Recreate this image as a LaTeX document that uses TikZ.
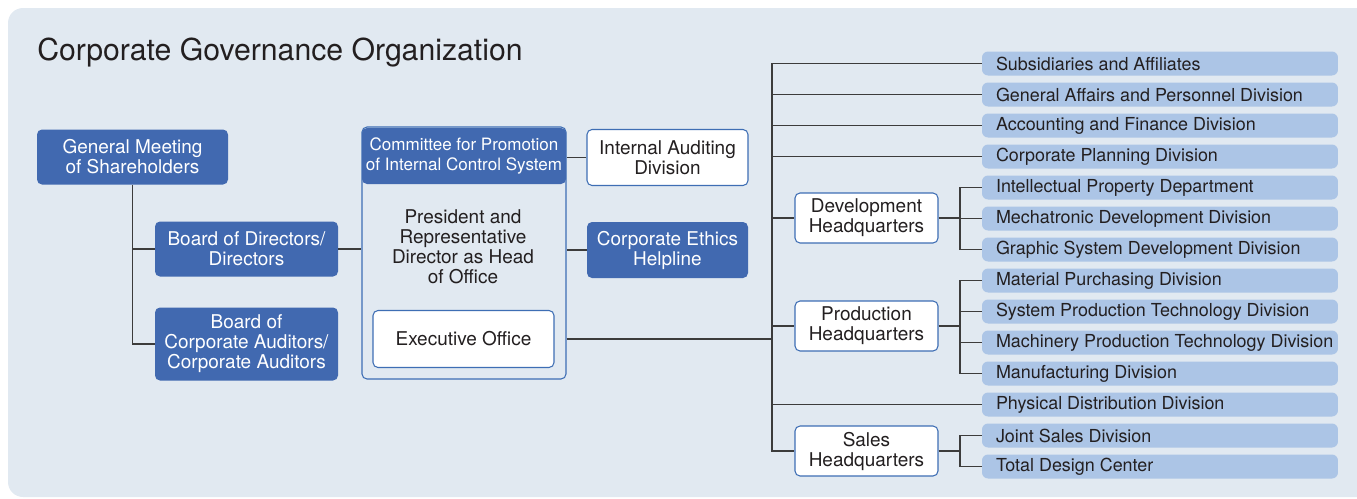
\documentclass[tikz,border=0pt]{standalone}
\usepackage{fontspec}
\setmainfont{TeX Gyre Heros}
\usepackage{tikz}
\definecolor{dkblue}{RGB}{65,105,176}
\definecolor{ltblue}{RGB}{172,197,230}
\definecolor{bgfill}{RGB}{225,233,241}
\definecolor{bdblue}{RGB}{62,110,180}
\definecolor{lncol}{RGB}{60,60,60}
\definecolor{txtcol}{RGB}{35,31,32}
\newcommand{\bodyfont}{\fontsize{10.8}{11.4}\selectfont}
\newcommand{\cmtfont}{\fontsize{9.7}{11.2}\selectfont}
\newcommand{\divfont}{\fontsize{10.2}{11.4}\selectfont}

\begin{document}
\begin{tikzpicture}[x=0.02cm, y=-0.02cm,
  conn/.style={draw=lncol, line width=0.6pt},
  boxsize/.style 2 args={minimum width=#1*0.02cm, minimum height=#2*0.02cm},
  darkbox/.style={fill=dkblue, text=white, rounded corners=0.1cm, align=center, inner sep=0pt, font=\bodyfont},
  whitebox/.style={fill=white, draw=bdblue, line width=0.6pt, rounded corners=0.1cm, align=center, inner sep=0pt, text=txtcol, font=\bodyfont},
  divbox/.style={fill=ltblue, rounded corners=0.12cm, inner xsep=0.28cm, inner ysep=0pt, minimum height=0.48cm, text=txtcol, font=\divfont},
]
\useasboundingbox (0,0) rectangle (1357,498);
% Background panel
\begin{scope}
\clip (0,0) rectangle (1357,498);
\fill[bgfill, rounded corners=0.3cm] (8,8) rectangle (1400,497);
\end{scope}
\node[anchor=base west, inner sep=0pt, text=txtcol, font=\fontsize{17.2}{20}\selectfont] (title) at (37,60) {Corporate Governance Organization};
% Left column
\node[darkbox, boxsize={191}{55}] (gm) at (132.5,157) {General Meeting\\of Shareholders};
\node[darkbox, boxsize={183}{55}] (dir) at (246.5,249) {Board of Directors/\\Directors};
\node[darkbox, boxsize={183}{73}] (aud) at (246.5,344) {Board of\\Corporate Auditors/\\Corporate Auditors};
% President block
\node[draw=bdblue, line width=0.6pt, rounded corners=0.1cm, inner sep=0pt, boxsize={204}{252}] (pres) at (464,253) {};
\node[darkbox, boxsize={204}{56}, font=\cmtfont] (comm) at (464,156) {Committee for Promotion\\of Internal Control System};
\node[align=center, text=txtcol, font=\bodyfont] (head) at (463,247) {President and\\Representative\\Director as Head\\of Office};
\node[whitebox, boxsize={181}{57}] (exec) at (463.5,339) {Executive Office};
\node[whitebox, boxsize={161}{56}] (ia) at (667.5,157.5) {Internal Auditing\\Division};
\node[darkbox, boxsize={161}{56}] (eth) at (667.5,250) {Corporate Ethics\\Helpline};
% Headquarters
\node[whitebox, boxsize={143}{50}] (dev) at (866.5,218) {Development\\Headquarters};
\node[whitebox, boxsize={143}{50}] (prod) at (866.5,326) {Production\\Headquarters};
\node[whitebox, boxsize={143}{50}] (sales) at (866.5,451) {Sales\\Headquarters};
% Divisions
\foreach \i/\name in {1/Subsidiaries and Affiliates, 2/General Affairs and Personnel Division,
  3/Accounting and Finance Division, 4/Corporate Planning Division,
  5/Intellectual Property Department, 6/Mechatronic Development Division,
  7/Graphic System Development Division, 8/Material Purchasing Division,
  9/System Production Technology Division, 10/Machinery Production Technology Division,
  11/Manufacturing Division, 12/Physical Distribution Division,
  13/Joint Sales Division, 14/Total Design Center} {
  \node[divbox] (d\i) at (1160,{32.5+31*\i}) {\makebox[6.56cm][l]{\name}};
}
\coordinate (tr) at (772,0);
\coordinate (br) at (960,0);
% Connectors
\draw[conn] (gm.south) |- (dir.west);
\draw[conn] (gm.south) |- (aud.west);
\draw[conn] (dir.east) -- (dir.east -| pres.west);
\draw[conn] (ia.west) -- (ia.west -| pres.east);
\draw[conn] (eth.west) -- (eth.west -| pres.east);
\draw[conn] (exec.east -| pres.east) -- (exec.east -| tr);
\draw[conn] (d1.west) -| (sales.west -| tr) -- (sales.west);
\foreach \i in {2,3,4,12} \draw[conn] (d\i.west -| tr) -- (d\i.west);
\draw[conn] (dev.west -| tr) -- (dev.west);
\draw[conn] (prod.west -| tr) -- (prod.west);
% Sub-branches
\draw[conn] (dev.east) -- (dev.east -| br);
\draw[conn] (d5.west) -| (d7.west -| br) -- (d7.west);
\draw[conn] (d6.west -| br) -- (d6.west);
\draw[conn] (prod.east) -- (prod.east -| br);
\draw[conn] (d8.west) -| (d11.west -| br) -- (d11.west);
\foreach \i in {9,10} \draw[conn] (d\i.west -| br) -- (d\i.west);
\draw[conn] (sales.east) -- (sales.east -| br);
\draw[conn] (d13.west) -| (d14.west -| br) -- (d14.west);
\end{tikzpicture}
\end{document}
